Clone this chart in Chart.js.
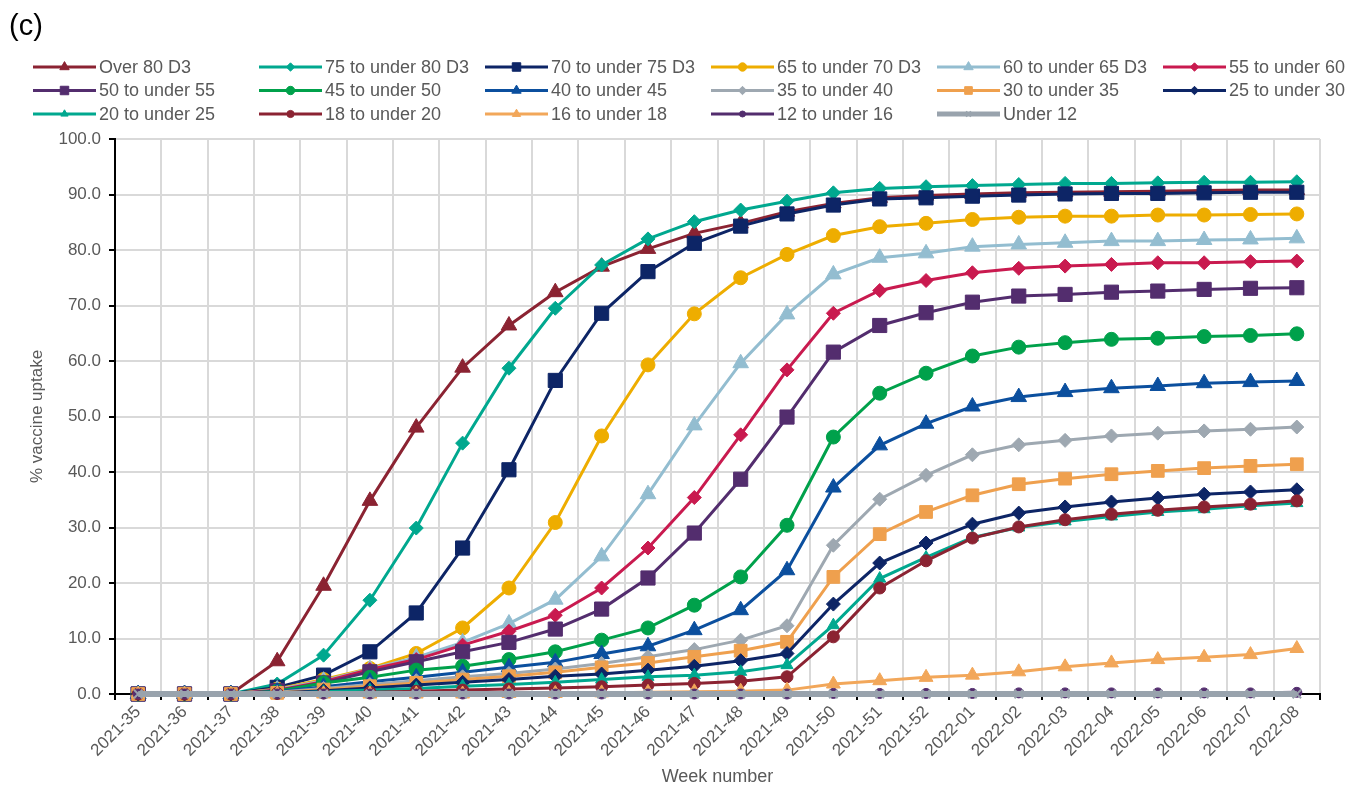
<!DOCTYPE html>
<html>
<head>
<meta charset="utf-8">
<title>Vaccine uptake by age group</title>
<script src="https://cdn.jsdelivr.net/npm/chart.js@4.4.1/dist/chart.umd.min.js"></script>
<style>
    html, body { margin: 0; padding: 0; background: #fff; }
    #wrap { position: relative; width: 1363px; height: 789px; }
</style>
</head>
<body>
<div id="wrap"><canvas id="uptake-chart"></canvas></div>
<script>
// Weekly cumulative uptake (%) per age band
const weekLabels = ['2021-35', '2021-36', '2021-37', '2021-38', '2021-39', '2021-40', '2021-41', '2021-42', '2021-43',
    '2021-44', '2021-45', '2021-46', '2021-47', '2021-48', '2021-49', '2021-50', '2021-51', '2021-52',
    '2022-01', '2022-02', '2022-03', '2022-04', '2022-05', '2022-06', '2022-07', '2022-08'];

const over80D3     = [0, 0, 0, 5.9, 19.5, 34.8, 48.0, 58.8, 66.4, 72.4, 77.0, 80.2, 83.0, 84.8, 86.9, 88.4, 89.4, 89.8, 90.1, 90.3, 90.4, 90.5, 90.6, 90.7, 90.8, 90.8];
const age75to80D3  = [0, 0, 0, 1.8, 7.0, 16.9, 29.9, 45.2, 58.7, 69.5, 77.3, 82.0, 85.1, 87.2, 88.8, 90.3, 91.1, 91.4, 91.6, 91.8, 92.0, 92.0, 92.1, 92.2, 92.2, 92.3];
const age70to75D3  = [0, 0, 0, 1.2, 3.4, 7.6, 14.6, 26.3, 40.4, 56.5, 68.6, 76.1, 81.2, 84.3, 86.5, 88.1, 89.2, 89.4, 89.7, 89.9, 90.1, 90.2, 90.2, 90.3, 90.4, 90.4];
const age65to70D3  = [0, 0, 0, 0.9, 2.6, 4.6, 7.3, 11.9, 19.1, 30.9, 46.5, 59.3, 68.5, 75.0, 79.2, 82.6, 84.2, 84.8, 85.5, 85.9, 86.1, 86.1, 86.3, 86.3, 86.4, 86.5];
const age60to65D3  = [0, 0, 0, 0.8, 2.4, 4.5, 6.6, 9.3, 12.7, 17.0, 24.8, 36.0, 48.4, 59.6, 68.4, 75.6, 78.6, 79.4, 80.6, 81.0, 81.3, 81.6, 81.6, 81.8, 81.9, 82.1];
const age55to60    = [0, 0, 0, 0.7, 2.2, 4.4, 6.2, 8.8, 11.3, 14.2, 19.1, 26.3, 35.4, 46.7, 58.4, 68.6, 72.7, 74.5, 75.9, 76.7, 77.1, 77.4, 77.7, 77.7, 77.9, 78.0];
const age50to55    = [0, 0, 0, 0.6, 2.0, 4.0, 5.8, 7.6, 9.3, 11.7, 15.3, 20.9, 29.0, 38.7, 49.9, 61.6, 66.4, 68.7, 70.6, 71.7, 72.0, 72.4, 72.6, 72.9, 73.1, 73.2];
const age45to50    = [0, 0, 0, 0.5, 2.0, 3.0, 4.3, 5.0, 6.2, 7.6, 9.7, 11.9, 16.0, 21.1, 30.4, 46.3, 54.2, 57.8, 60.9, 62.5, 63.3, 63.9, 64.1, 64.4, 64.6, 64.9];
const age40to45    = [0, 0, 0, 0.4, 1.3, 2.2, 3.0, 3.9, 4.8, 5.7, 7.2, 8.6, 11.5, 15.1, 22.3, 37.2, 44.8, 48.7, 51.8, 53.5, 54.4, 55.1, 55.5, 56.0, 56.2, 56.4];
const age35to40    = [0, 0, 0, 0.3, 1.0, 1.7, 2.4, 3.1, 3.7, 4.5, 5.5, 6.7, 8.0, 9.7, 12.3, 26.8, 35.1, 39.4, 43.1, 44.9, 45.7, 46.5, 47.0, 47.4, 47.7, 48.1];
const age30to35    = [0, 0, 0, 0.2, 0.8, 1.4, 2.0, 2.6, 3.2, 3.9, 4.8, 5.6, 6.7, 7.8, 9.4, 21.1, 28.8, 32.8, 35.8, 37.8, 38.8, 39.6, 40.2, 40.7, 41.1, 41.4];
const age25to30    = [0, 0, 0, 0.2, 0.6, 1.1, 1.6, 2.1, 2.6, 3.2, 3.6, 4.3, 5.0, 6.0, 7.3, 16.2, 23.6, 27.2, 30.6, 32.6, 33.7, 34.6, 35.3, 36.0, 36.4, 36.8];
const age20to25    = [0, 0, 0, 0.1, 0.4, 0.7, 1.0, 1.4, 1.7, 2.1, 2.6, 3.1, 3.4, 4.0, 5.2, 12.4, 20.8, 24.6, 28.2, 30.0, 31.1, 32.0, 32.8, 33.3, 33.9, 34.4];
const age18to20    = [0, 0, 0, 0.1, 0.2, 0.3, 0.5, 0.7, 0.9, 1.1, 1.3, 1.6, 1.9, 2.3, 3.1, 10.3, 19.1, 24.0, 28.1, 30.1, 31.4, 32.4, 33.1, 33.7, 34.2, 34.8];
const age16to18    = [0, 0, 0, 0, 0, 0, 0, 0, 0.1, 0.1, 0.2, 0.3, 0.4, 0.5, 0.7, 1.8, 2.4, 3.0, 3.4, 4.0, 4.9, 5.6, 6.2, 6.6, 7.1, 8.2];
const age12to16    = [0, 0, 0, 0, 0, 0, 0, 0, 0, 0, 0, 0, 0, 0, 0, 0.1, 0.1, 0.1, 0.1, 0.2, 0.2, 0.2, 0.2, 0.2, 0.2, 0.3];
const under12      = [0, 0, 0, 0, 0, 0, 0, 0, 0, 0, 0, 0, 0, 0, 0, 0, 0, 0, 0, 0, 0, 0, 0, 0, 0, 0];

const seriesNames = ['Over 80 D3', '75 to under 80 D3', '70 to under 75 D3', '65 to under 70 D3', '60 to under 65 D3', '55 to under 60',
    '50 to under 55', '45 to under 50', '40 to under 45', '35 to under 40', '30 to under 35', '25 to under 30',
    '20 to under 25', '18 to under 20', '16 to under 18', '12 to under 16', 'Under 12'];
const seriesValues = [over80D3, age75to80D3, age70to75D3, age65to70D3, age60to65D3, age55to60,
    age50to55, age45to50, age40to45, age35to40, age30to35, age25to30,
    age20to25, age18to20, age16to18, age12to16, under12];

// colour, marker and marker radius per series
const seriesStyles = [
    ['#8B2332', 'triangle', 9],
    ['#00A88F', 'rectRot', 7],
    ['#0D2566', 'rect', 10],
    ['#EEAD00', 'circle', 7],
    ['#93BDD0', 'triangle', 9],
    ['#C91A4F', 'rectRot', 7],
    ['#532D6E', 'rect', 10],
    ['#00A14B', 'circle', 7],
    ['#0B4F9E', 'triangle', 9],
    ['#9EA8B1', 'rectRot', 7],
    ['#EFA04E', 'rect', 9],
    ['#0D2566', 'rectRot', 7],
    ['#00A88F', 'triangle', 7],
    ['#8B2332', 'circle', 6],
    ['#F2A75A', 'triangle', 8],
    ['#532D6E', 'circle', 5],
    ['#99A3AD', 'crossRot', 6]
];

const FONT = '"Liberation Sans", Arial, sans-serif';
const TEXT_GREY = '#595959';
Chart.defaults.font.family = FONT;

const datasets = seriesNames.map((name, i) => {
    const [color, style, radius] = seriesStyles[i];
    const thick = name === 'Under 12';
    return {
        label: name,
        data: seriesValues[i],
        borderColor: color,
        backgroundColor: color,
        borderWidth: thick ? 6 : 3,
        pointStyle: style,
        pointRadius: radius,
        pointHoverRadius: radius,
        pointBackgroundColor: color,
        pointBorderColor: color,
        pointBorderWidth: style === 'crossRot' ? 2 : 1,
        tension: 0,
        clip: false,
        order: seriesNames.length - i   // later series are painted on top
    };
});

// Panel letter and a six-column legend drawn straight onto the canvas
const gridLegend = {
    id: 'gridLegend',
    afterDraw(chart) {
        const ctx = chart.ctx;
        ctx.save();
        ctx.fillStyle = '#000';
        ctx.font = '29px ' + FONT;
        ctx.textBaseline = 'alphabetic';
        ctx.fillText('(c)', 9, 35);

        ctx.font = '18px ' + FONT;
        ctx.textBaseline = 'middle';
        chart.data.datasets.forEach((ds, i) => {
            const col = i % 6;
            const row = Math.floor(i / 6);
            const x = 33 + col * 226;
            const y = 67 + row * 23.5;
            ctx.strokeStyle = ds.borderColor;
            ctx.fillStyle = ds.borderColor;
            ctx.lineWidth = ds.borderWidth === 6 ? 5 : 3;
            ctx.beginPath();
            ctx.moveTo(x, y);
            ctx.lineTo(x + 63, y);
            ctx.stroke();
            ctx.lineWidth = ds.pointBorderWidth;
            Chart.helpers.drawPoint(ctx, {
                pointStyle: ds.pointStyle,
                radius: ds.pointRadius * 0.6,
                borderWidth: ds.pointBorderWidth,
                rotation: 0
            }, x + 31.5, y);
            ctx.fillStyle = TEXT_GREY;
            ctx.fillText(ds.label, x + 66, y + 1);
        });
        ctx.restore();
    }
};

new Chart(document.getElementById('uptake-chart'), {
    type: 'line',
    data: { labels: weekLabels, datasets: datasets },
    options: {
        responsive: true,
        maintainAspectRatio: false,
        animation: false,
        layout: { padding: { top: 139, right: 43, left: 0, bottom: 0 } },
        plugins: {
            legend: { display: false },
            title: { display: false },
            tooltip: { enabled: false }
        },
        scales: {
            x: {
                offset: true,
                grid: { offset: true, color: '#D9D9D9', lineWidth: 2, tickColor: '#000', tickLength: 6, tickWidth: 2 },
                border: { color: '#000', width: 2 },
                ticks: { color: TEXT_GREY, font: { size: 17 }, minRotation: 45, maxRotation: 45, autoSkip: false, padding: 2 },
                title: { display: true, text: 'Week number', color: TEXT_GREY, font: { size: 18 }, padding: { top: 0, bottom: 1 } },
                afterFit(scale) { scale.height = 95; }
            },
            y: {
                min: 0,
                max: 100,
                grid: { color: '#D9D9D9', lineWidth: 2, tickColor: '#000', tickLength: 6, tickWidth: 2 },
                border: { color: '#000', width: 2 },
                ticks: { stepSize: 10, color: TEXT_GREY, font: { size: 17 }, padding: 8, callback: v => v.toFixed(1) },
                title: { display: true, text: '% vaccine uptake', color: TEXT_GREY, font: { size: 17 }, padding: { top: 27, bottom: 0 } },
                afterFit(scale) { scale.width = 115; }
            }
        }
    },
    plugins: [gridLegend]
});
</script>
</body>
</html>
